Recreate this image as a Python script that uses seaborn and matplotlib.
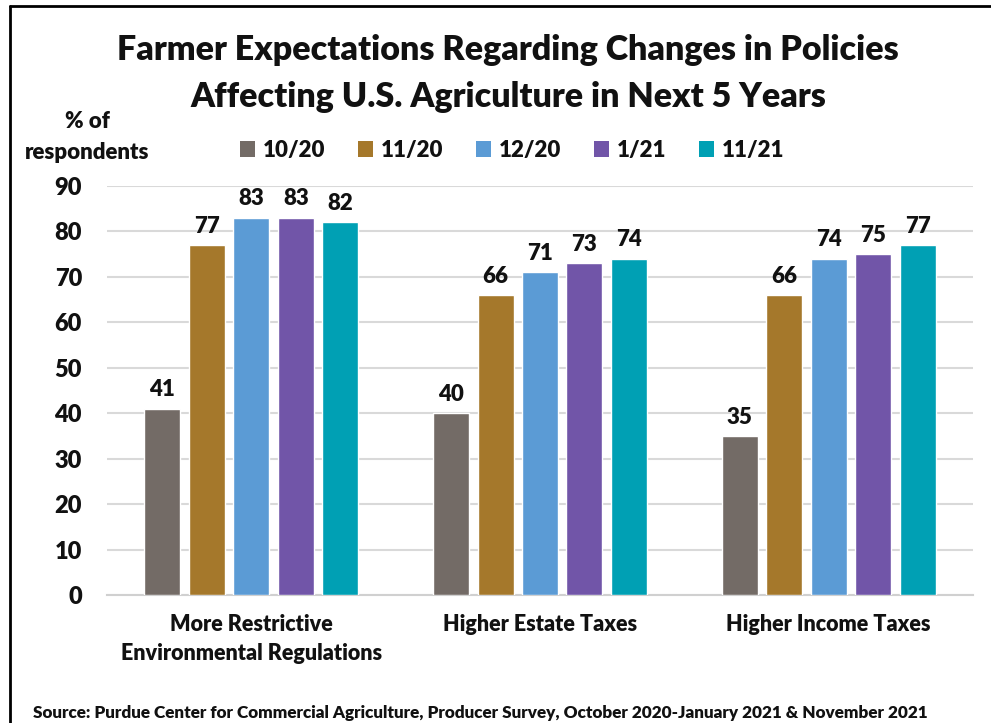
import matplotlib
matplotlib.use("Agg")
import matplotlib.pyplot as plt
from matplotlib.lines import Line2D
from matplotlib.patches import Patch
import seaborn as sns
import pandas as pd

categories = ["More Restrictive\nEnvironmental Regulations", "Higher Estate Taxes", "Higher Income Taxes"]
series = ["10/20", "11/20", "12/20", "1/21", "11/21"]
v_1020 = [41, 40, 35]
v_1120 = [77, 66, 66]
v_1220 = [83, 71, 74]
v_121 = [83, 73, 75]
v_1121 = [82, 74, 77]
colors = ["#736B66", "#A5782B", "#5B9BD5", "#7155A8", "#00A0B4"]
yticks = [0, 10, 20, 30, 40, 50, 60, 70, 80, 90]

rows = []
for s, vals in zip(series, [v_1020, v_1120, v_1220, v_121, v_1121]):
    for c, v in zip(categories, vals):
        rows.append({"category": c, "series": s, "value": v})
df = pd.DataFrame(rows)

sns.set_style("white")
FONT = ["Lato", "DejaVu Sans"]
plt.rcParams["font.family"] = FONT
W = "heavy"
plt.rcParams["font.weight"] = W
TXT = "#111111"

fig = plt.figure(figsize=(9.91, 7.23), dpi=100)
ax = fig.add_axes([107/991, (723-595)/723, (973-107)/991, (595-186)/723])

sns.barplot(data=df, x="category", y="value", hue="series", order=categories,
            hue_order=series, palette=colors, width=0.77, gap=0.19,
            saturation=1, ax=ax, legend=False, zorder=3)

for cont in ax.containers:
    ax.bar_label(cont, fmt="%d", padding=6, fontsize=16, fontweight=W, color=TXT)

ax.set_ylim(0, 90)
ax.set_xlim(-0.5, 2.5)
ax.set_yticks(yticks)
ax.yaxis.grid(True, color="#D9D9D9", linewidth=1.5, zorder=0)
ax.set_axisbelow(True)
for sp in ["top", "right", "left"]:
    ax.spines[sp].set_visible(False)
ax.spines["bottom"].set_color("#D0D0D0")
ax.spines["bottom"].set_linewidth(1.5)
ax.tick_params(axis="both", length=0)
ax.tick_params(axis="y", pad=18, labelsize=17)
ax.tick_params(axis="x", pad=14, labelsize=15.5)
for lab in ax.get_yticklabels() + ax.get_xticklabels():
    lab.set_fontweight(W)
    lab.set_color(TXT)
    lab.set_linespacing(1.45)
ax.set_xlabel("")
ax.set_ylabel("")

fig.text(508/991, 1 - 50/723, "Farmer Expectations Regarding Changes in Policies",
         ha="center", va="center", fontsize=24.5, fontweight=W, color=TXT)
fig.text(508/991, 1 - 97/723, "Affecting U.S. Agriculture in Next 5 Years",
         ha="center", va="center", fontsize=24.5, fontweight=W, color=TXT)
fig.text(87/991, 1 - 137/723, "% of\nrespondents", ha="center", va="center",
         fontsize=16, fontweight=W, color=TXT, linespacing=1.55)

handles = [Patch(facecolor=c, edgecolor="none") for c in colors]
leg = fig.legend(handles, series, loc="center", bbox_to_anchor=(512/991, 1 - 150/723),
                 ncol=5, frameon=False, fontsize=16, handlelength=0.7, handleheight=0.7,
                 columnspacing=1.45, handletextpad=0.35)
for t in leg.get_texts():
    t.set_fontweight(W)
    t.set_color(TXT)

fig.text(33/991, 1 - 713/723, "Source: Purdue Center for Commercial Agriculture, Producer Survey, October 2020-January 2021 & November 2021",
         ha="left", va="center", fontsize=12.3, fontweight=W, color=TXT)

fig.add_artist(Line2D([10/991, 10/991], [0, 1 - 6/723], transform=fig.transFigure, color="black", linewidth=2))
fig.add_artist(Line2D([10/991, 1], [1 - 6/723, 1 - 6/723], transform=fig.transFigure, color="black", linewidth=2))

fig.savefig("out.png", dpi=100)
